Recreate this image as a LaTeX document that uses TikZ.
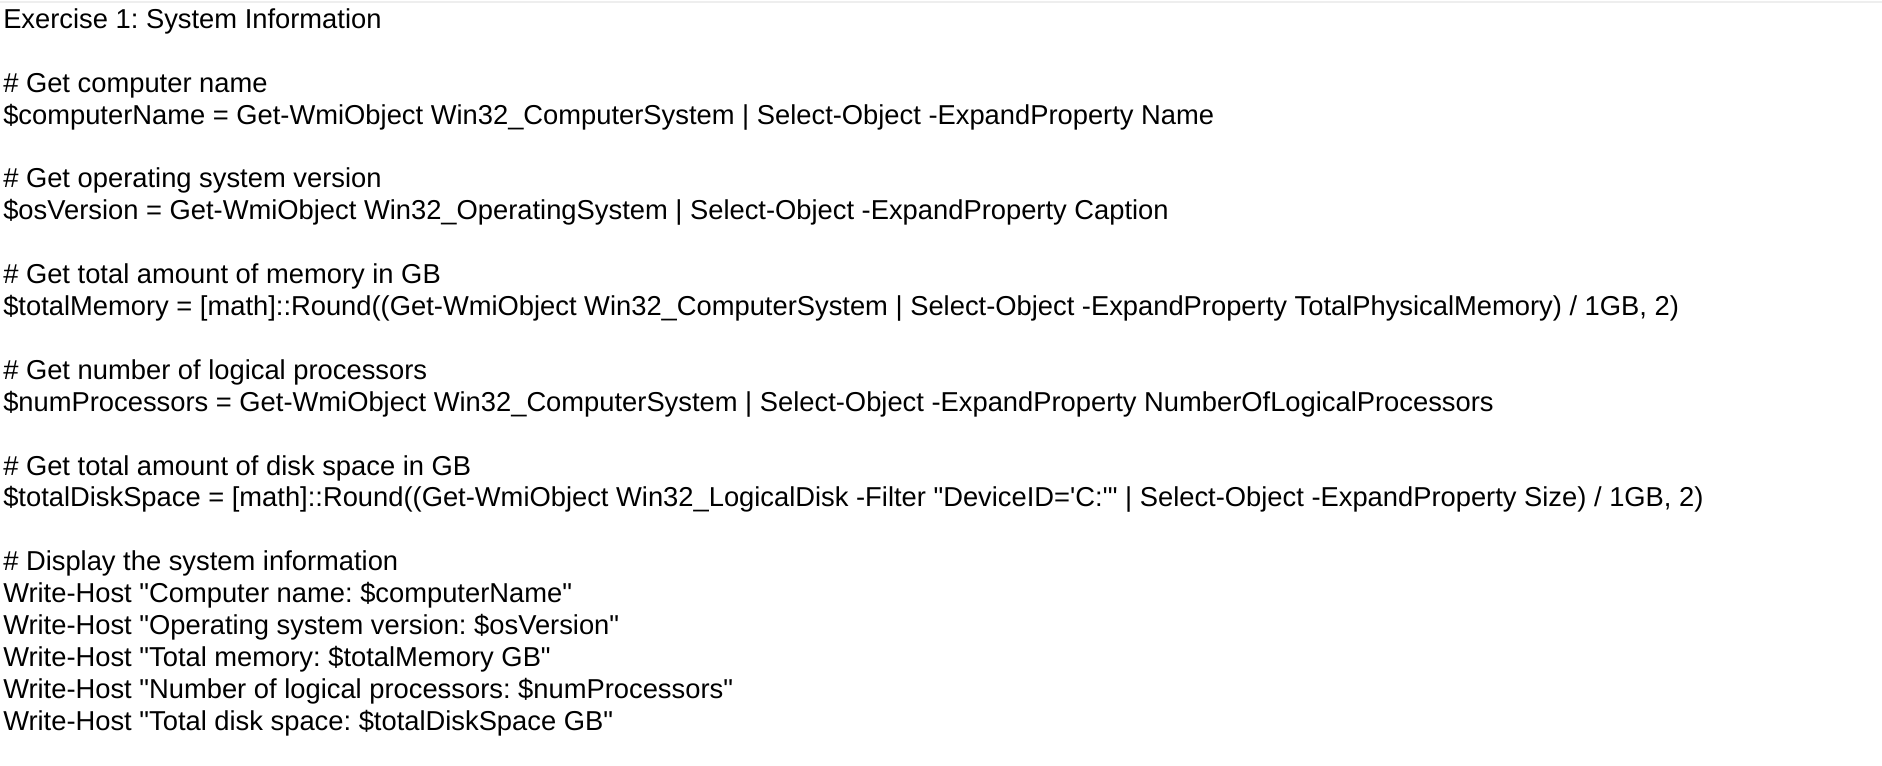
\documentclass[tikz,border=0pt]{standalone}
\usepackage{fontspec}
\setmainfont{Liberation Sans}
\usepackage{xcolor}
\usepackage{tikz}
\usetikzlibrary{positioning}
\frenchspacing

\definecolor{rulegray}{HTML}{EEEEEE}
\newcommand{\dq}{\textquotedbl}
\newcommand{\sq}{\textquotesingle}

\begin{document}
\begin{tikzpicture}[
        x=0.75pt, y=-0.75pt,
        codeline/.style={anchor=base west, inner sep=0pt, font=\fontsize{20.5pt}{24pt}\selectfont},
        topline/.style={draw=rulegray, line width=1.5pt}
    ]
        \useasboundingbox (0,0) rectangle (1882,766);
        \draw[topline] (0,2) -- (1882,2);

        % Title
        \node[codeline] (title) at (3,28.5) {Exercise 1: System Information};

        % Computer name
        \node[codeline] (c1) at (3,92.3) {\# Get computer name};
        \node[codeline] (l1) at (3,124.2) {\$computerName = Get-WmiObject Win32\_ComputerSystem | Select-Object -ExpandProperty Name};

        % OS version
        \node[codeline] (c2) at (3,188) {\# Get operating system version};
        \node[codeline] (l2) at (3,219.9) {\$osVersion = Get-WmiObject Win32\_OperatingSystem | Select-Object -ExpandProperty Caption};

        % Memory
        \node[codeline] (c3) at (3,283.7) {\# Get total amount of memory in GB};
        \node[codeline] (l3) at (3,315.6) {\$totalMemory = [math]::Round((Get-WmiObject Win32\_ComputerSystem | Select-Object -ExpandProperty TotalPhysicalMemory) / 1GB, 2)};

        % Processors
        \node[codeline] (c4) at (3,379.4) {\# Get number of logical processors};
        \node[codeline] (l4) at (3,411.3) {\$numProcessors = Get-WmiObject Win32\_ComputerSystem | Select-Object -ExpandProperty NumberOfLogicalProcessors};

        % Disk space
        \node[codeline] (c5) at (3,475.1) {\# Get total amount of disk space in GB};
        \node[codeline] (l5) at (3,507) {\$totalDiskSpace = [math]::Round((Get-WmiObject Win32\_LogicalDisk -Filter \dq DeviceID=\sq C:\sq\dq{} | Select-Object -ExpandProperty Size) / 1GB, 2)};

        % Output
        \node[codeline] (c6) at (3,570.8) {\# Display the system information};
        \node[codeline] (w1) at (3,602.7) {Write-Host \dq Computer name: \$computerName\dq};
        \node[codeline] (w2) at (3,634.6) {Write-Host \dq Operating system version: \$osVersion\dq};
        \node[codeline] (w3) at (3,666.5) {Write-Host \dq Total memory: \$totalMemory GB\dq};
        \node[codeline] (w4) at (3,698.4) {Write-Host \dq Number of logical processors: \$numProcessors\dq};
        \node[codeline] (w5) at (3,730.3) {Write-Host \dq Total disk space: \$totalDiskSpace GB\dq};
    \end{tikzpicture}
\end{document}
